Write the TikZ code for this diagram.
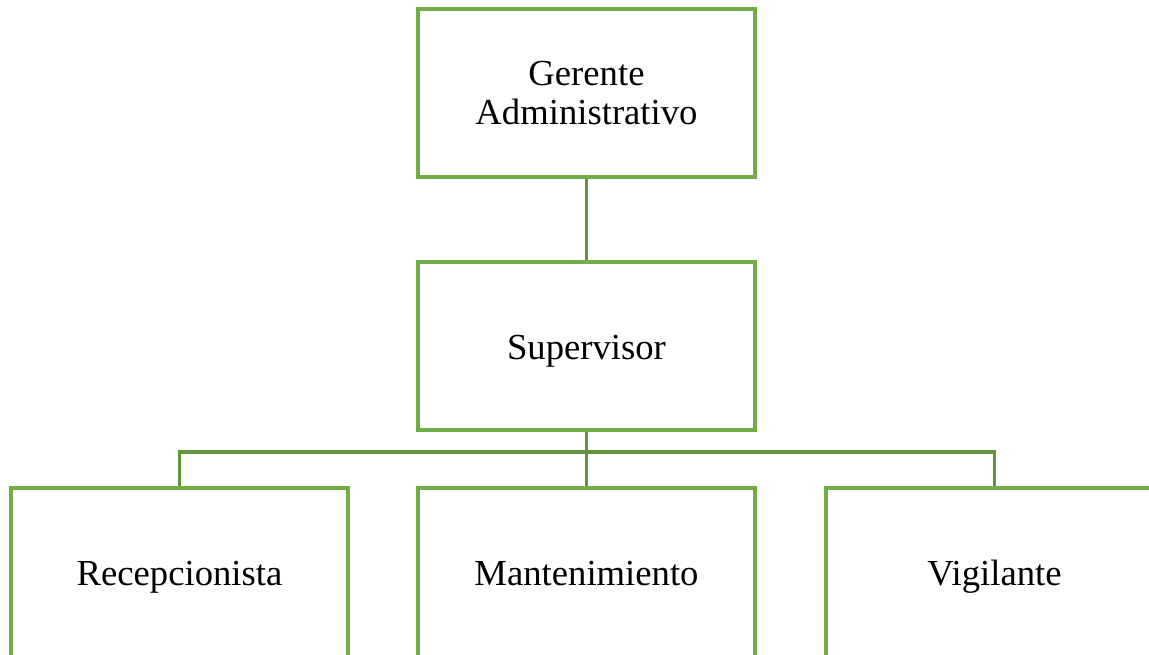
\documentclass[tikz,border=0pt]{standalone}
\usepackage{fontspec}
\setmainfont{Liberation Serif}
\definecolor{boxgreen}{RGB}{112,173,71}
\definecolor{linegreen}{RGB}{98,148,62}
\begin{document}
\begin{tikzpicture}[x=0.75pt,y=-0.75pt,
  orgbox/.style={draw=boxgreen,line width=2.3pt,fill=white,rectangle,
    minimum width=252.75pt,minimum height=126pt,inner sep=0pt,align=center,
    font=\fontsize{27.5}{29.5}\selectfont},
  oneline/.style={text height=20.8pt,text depth=0.8pt},
  lowbox/.style={minimum height=130.5pt,text height=16pt,text depth=1pt},
  conn/.style={draw=linegreen,line width=2.3pt}]
\useasboundingbox (0,0) rectangle (1149,654);
\clip (0,0) rectangle (1149,654);
\node[orgbox] (g) at (586.5,93) {Gerente\\Administrativo};
\node[orgbox,oneline] (s) at (586.5,346) {Supervisor};
\node[orgbox,lowbox] (r) at (179.5,575) {Recepcionista};
\node[orgbox,lowbox] (m) at (586.5,575) {Mantenimiento};
\node[orgbox,lowbox] (v) at (994.5,575) {Vigilante};
\coordinate (bus) at (586.5,452);
\draw[conn] (g.south) -- (s.north);
\draw[conn] (s.south) -- (bus);
\draw[conn] (bus) -| (r.north);
\draw[conn] (bus) -| (v.north);
\draw[conn] (bus) -- (m.north);
\end{tikzpicture}
\end{document}
